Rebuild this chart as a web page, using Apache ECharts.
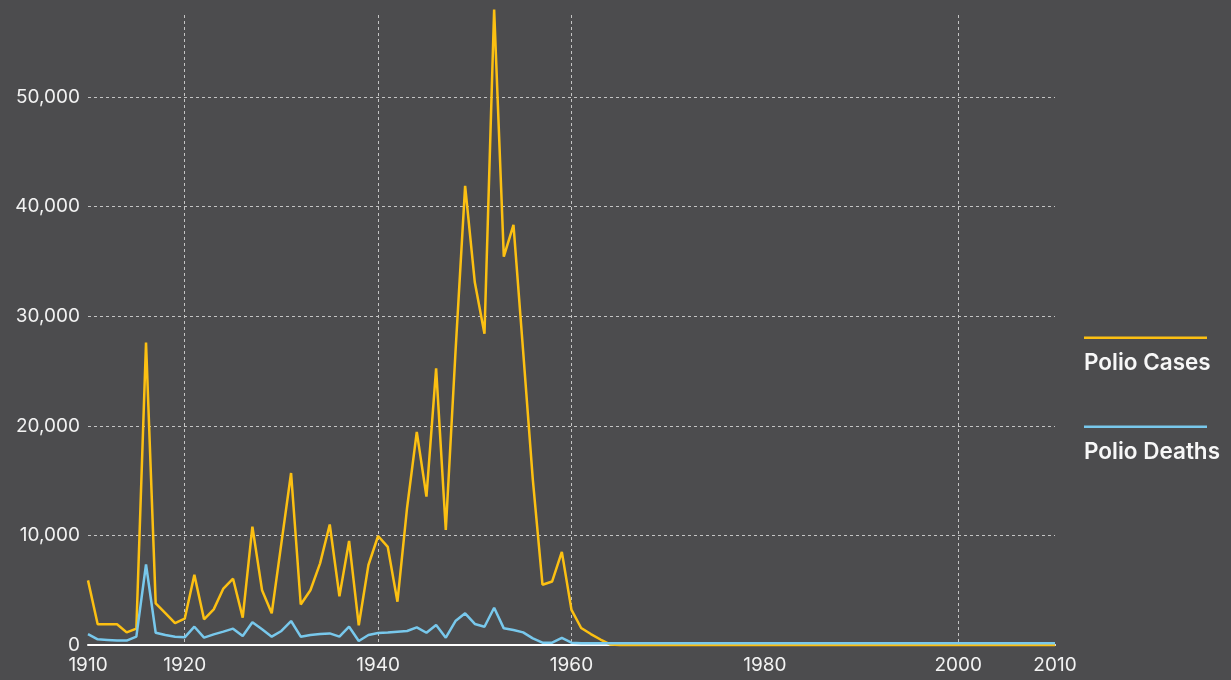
<!DOCTYPE html>
<html>
<head>
<meta charset="utf-8">
<title>Polio cases and deaths</title>
<script src="https://cdn.jsdelivr.net/npm/echarts@6/dist/echarts.min.js"></script>
<style>
  html, body { margin: 0; padding: 0; background: #4c4c4e; }
  #polio_chart { width: 1231px; height: 680px; }
</style>
</head>
<body>
<div id="polio_chart"></div>
<script type="text/javascript">
// years 1910 .. 2010
var years = []
for (var y = 1910; y <= 2010; y++) years.push(String(y))

var xLabelYears = ['1910', '1920', '1940', '1960', '1980', '2000', '2010']
var xGridYears = ['1920', '1940', '1960', '2000']

var seriesNames = ['Polio Cases', 'Polio Deaths']

var polioCases = [
  5900, 1900, 1900, 1900, 1150, 1500, 27600, 3800, 2900, 2000,      // 1910-1919
  2400, 6400, 2350, 3250, 5150, 6050, 2500, 10800, 5000, 2900,      // 1920-1929
  9300, 15700, 3700, 5000, 7450, 11000, 4450, 9500, 1800, 7300,     // 1930-1939
  9950, 8950, 3950, 12550, 19450, 13550, 25250, 10500, 26700, 41900, // 1940-1949
  33100, 28400, 58000, 35450, 38350, 26800, 15100, 5500, 5800, 8500, // 1950-1959
  3200, 1550, 1000, 500, 50, 0, 0, 0, 0, 0,                         // 1960-1969
  0, 0, 0, 0, 0, 0, 0, 0, 0, 0,                                     // 1970-1979
  0, 0, 0, 0, 0, 0, 0, 0, 0, 0,                                     // 1980-1989
  0, 0, 0, 0, 0, 0, 0, 0, 0, 0,                                     // 1990-1999
  0, 0, 0, 0, 0, 0, 0, 0, 0, 0,                                     // 2000-2009
  0                                                                 // 2010
]

var polioDeaths = [
  1000, 520, 460, 400, 400, 760, 7350, 1120, 910, 760,              // 1910-1919
  700, 1670, 670, 970, 1220, 1490, 820, 2070, 1430, 760,            // 1920-1929
  1280, 2190, 760, 910, 1000, 1060, 760, 1670, 370, 910,            // 1930-1939
  1090, 1150, 1220, 1280, 1610, 1120, 1820, 670, 2190, 2890,        // 1940-1949
  1920, 1670, 3400, 1520, 1370, 1150, 610, 210, 210, 640,           // 1950-1959
  210, 150, 150, 150, 150, 150, 150, 150, 150, 150,                 // 1960-1969
  150, 150, 150, 150, 150, 150, 150, 150, 150, 150,                 // 1970-1979
  150, 150, 150, 150, 150, 150, 150, 150, 150, 150,                 // 1980-1989
  150, 150, 150, 150, 150, 150, 150, 150, 150, 150,                 // 1990-1999
  150, 150, 150, 150, 150, 150, 150, 150, 150, 150,                 // 2000-2009
  150                                                               // 2010
]

var colors = ['#fcc012', '#78c8ec']

var myChart = echarts.init(document.getElementById('polio_chart'))

myChart.setOption({
  backgroundColor: '#4c4c4e',
  color: colors,
  animation: false,
  textStyle: { fontFamily: 'Inter, "Noto Sans", sans-serif' },
  grid: { left: 88, right: 176, top: 15, bottom: 35 },
  legend: {
    orient: 'vertical',
    left: 1074,
    top: 324,
    icon: 'none',
    itemWidth: 0,
    itemGap: 43,
    data: seriesNames,
    formatter: function (name) {
      var k = seriesNames.indexOf(name)
      return '{l' + k + '|}\n{t|' + name + '}'
    },
    textStyle: {
      rich: {
        l0: { width: 123, height: 2.5, lineHeight: 2.5, backgroundColor: colors[0] },
        l1: { width: 123, height: 2.5, lineHeight: 2.5, backgroundColor: colors[1] },
        t: { color: '#f7f7f7', fontSize: 22.5, fontWeight: 600, lineHeight: 26, padding: [23, 0, 0, 0] }
      }
    }
  },
  xAxis: {
    type: 'category',
    boundaryGap: false,
    data: years,
    axisLine: { lineStyle: { color: '#ffffff', width: 2 } },
    axisTick: { show: false },
    axisLabel: {
      color: '#f2f2f2',
      fontSize: 19,
      margin: 11,
      interval: function (index, value) { return xLabelYears.indexOf(value) >= 0 }
    },
    splitLine: {
      show: true,
      interval: function (index, value) { return xGridYears.indexOf(value) >= 0 },
      lineStyle: { color: '#c4c4c4', width: 1, type: [3, 3] }
    }
  },
  yAxis: {
    type: 'value',
    min: 0,
    max: 57500,
    interval: 10000,
    axisLine: { show: false },
    axisTick: { show: false },
    axisLabel: {
      color: '#f2f2f2',
      fontSize: 19,
      margin: 8,
      showMaxLabel: false,
      formatter: function (v) { return v.toLocaleString('en-US') }
    },
    splitLine: {
      show: true,
      showMinLine: false,
      showMaxLine: false,
      lineStyle: { color: '#c4c4c4', width: 1, type: [3, 3] }
    }
  },
  series: [
    {
      name: seriesNames[0],
      type: 'line',
      data: polioCases,
      symbol: 'none',
      clip: false,
      lineStyle: { width: 2.5, color: colors[0] },
      emphasis: { disabled: true }
    },
    {
      name: seriesNames[1],
      type: 'line',
      data: polioDeaths,
      symbol: 'none',
      clip: false,
      lineStyle: { width: 2.5, color: colors[1] },
      emphasis: { disabled: true }
    }
  ]
})
</script>
</body>
</html>
